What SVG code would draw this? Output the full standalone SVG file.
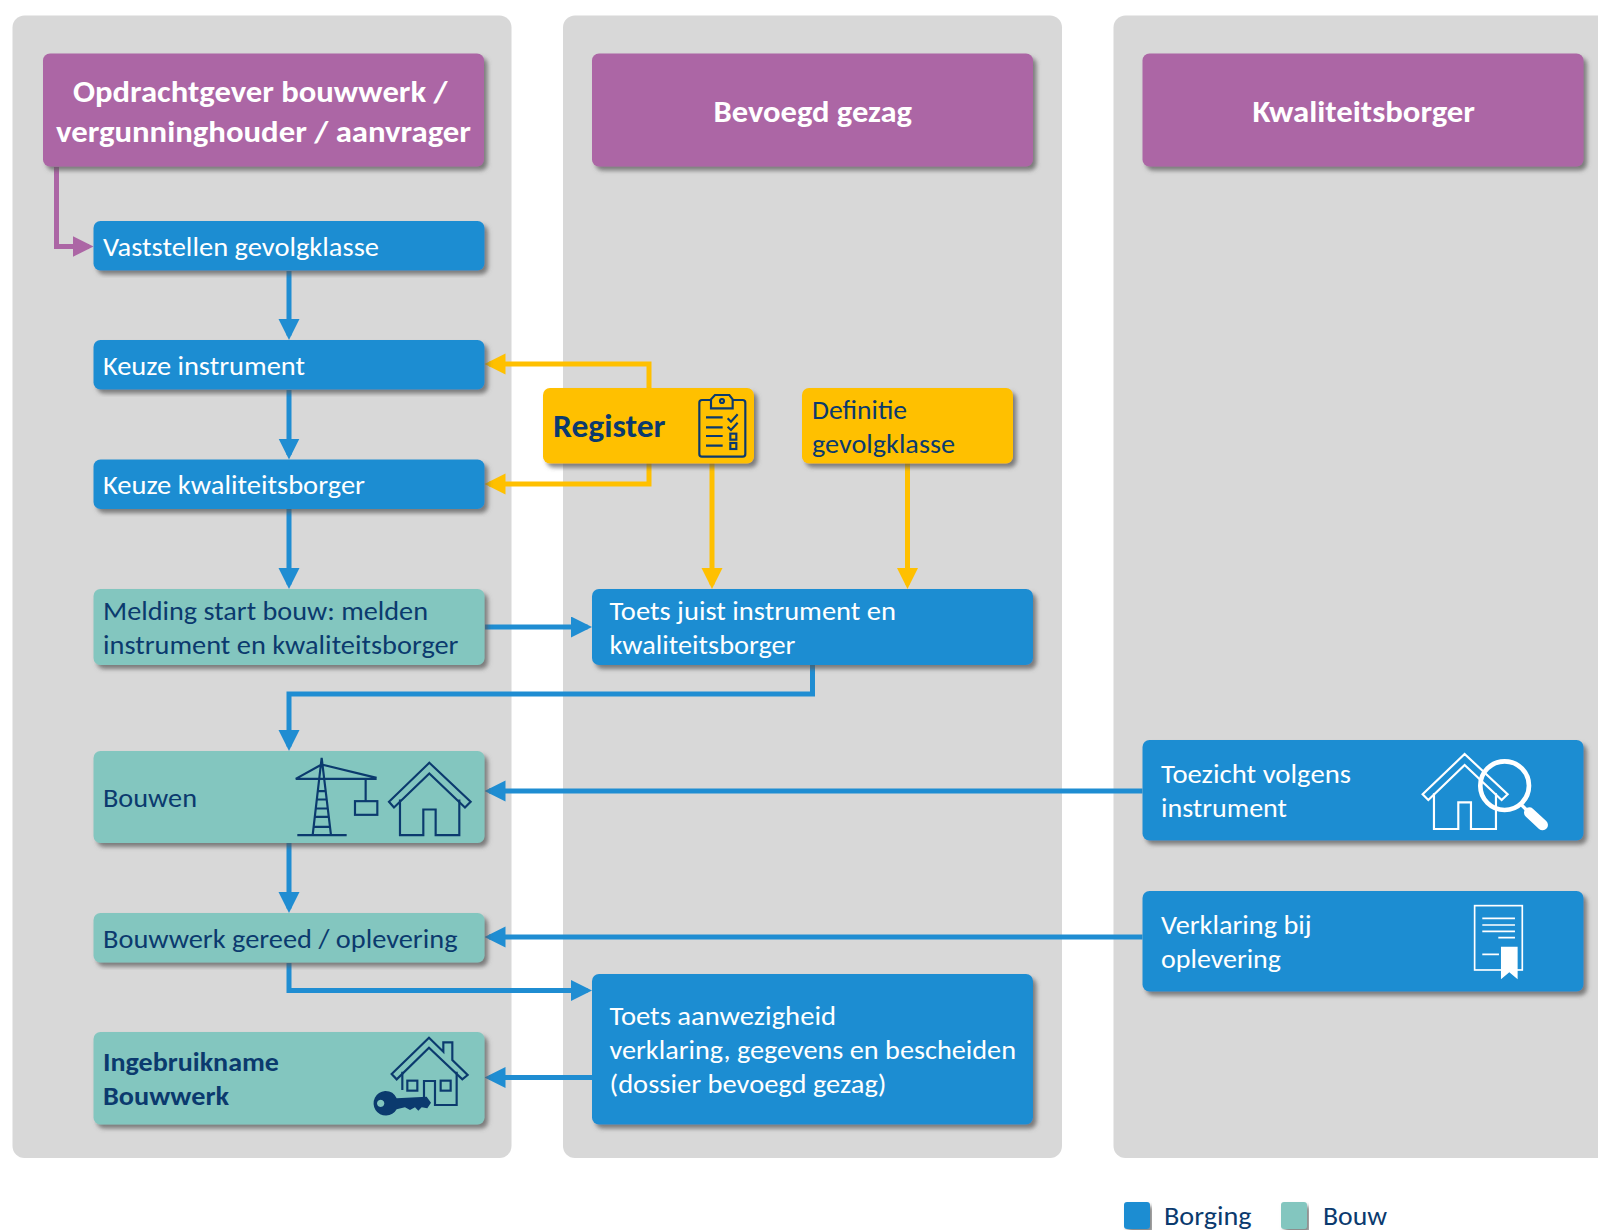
<svg xmlns="http://www.w3.org/2000/svg" width="1598" height="1230" viewBox="0 0 1598 1230">
<style>
text{font-family:Carlito,Lato,"Open Sans",sans-serif;font-size:26.5px;fill:#fff}
.h{font-size:30px;font-weight:700}
.d{fill:#0b3a6e}
.b{font-weight:700}
.lane{fill:#d8d8d8}
.box{filter:url(#sh)}
.blue{fill:#1f8dd2}.teal{fill:#83c6bf}.purple{fill:#ac66a5}.yellow{fill:#ffc000}
.c{fill:none;stroke-width:5;stroke-linejoin:miter}
.cb{stroke:#1f8dd2}.cy{stroke:#ffc000}.cp{stroke:#ac66a5}
.i{fill:none;stroke:#0b3a6e;stroke-width:6.500}
.w{fill:none;stroke:#fff;stroke-width:6.500}
</style>
<defs>
<filter id="sh" x="-5%" y="-10%" width="110%" height="125%"><feDropShadow dx="3.5" dy="4" stdDeviation="2.200" flood-color="#555" flood-opacity=".7"/></filter>
<marker id="mb" markerUnits="userSpaceOnUse" markerWidth="22" markerHeight="22" refX="16.5" refY="10.5" orient="auto"><path d="M0 0L21 10.500L0 21z" fill="#1f8dd2"/></marker>
<marker id="my" markerUnits="userSpaceOnUse" markerWidth="22" markerHeight="22" refX="16.500" refY="10.5" orient="auto"><path d="M0 0L21 10.500L0 21z" fill="#ffc000"/></marker>
<marker id="mp" markerUnits="userSpaceOnUse" markerWidth="22" markerHeight="22" refX="16.500" refY="10.500" orient="auto"><path d="M0 0L21 10.500L0 21z" fill="#ac66a5"/></marker>
</defs>
<rect width="1598" height="1230" fill="#fff"/>
<g id="lanes">
<rect class="lane" x="12.500" y="15.500" width="499" height="1142.500" rx="12"/>
<rect class="lane" x="563" y="15.500" width="499" height="1142.500" rx="12"/>
<path class="lane" d="M1598 15.500H1125.500a12 12 0 0 0-12 12V1146a12 12 0 0 0 12 12H1598z"/>
</g>
<g id="connectors">
<path class="c cp" marker-end="url(#mp)" d="M56.500 167V246.500H89"/>
<path class="c cb" marker-end="url(#mb)" d="M289 271V335.500"/>
<path class="c cb" marker-end="url(#mb)" d="M289 390V455"/>
<path class="c cb" marker-end="url(#mb)" d="M289 509V584.500"/>
<path class="c cb" marker-end="url(#mb)" d="M485 627H587.500"/>
<path class="c cb" marker-end="url(#mb)" d="M812.500 665V694H289V746.500"/>
<path class="c cb" marker-end="url(#mb)" d="M289 843V908.500"/>
<path class="c cb" marker-end="url(#mb)" d="M289 963V990.500H587.500"/>
<path class="c cb" marker-end="url(#mb)" d="M592 1077.500H489"/>
<path class="c cb" marker-end="url(#mb)" d="M1142.500 791H489"/>
<path class="c cb" marker-end="url(#mb)" d="M1142.500 937H489"/>
<path class="c cy" marker-end="url(#my)" d="M649 388V364H489"/>
<path class="c cy" marker-end="url(#my)" d="M649 463V484H489"/>
<path class="c cy" marker-end="url(#my)" d="M712 463V584.500"/>
<path class="c cy" marker-end="url(#my)" d="M907.500 463V584.500"/>
</g>
<g id="head-opdrachtgever">
<rect class="box purple" x="43" y="53.500" width="441" height="113" rx="7"/>
<text class="h" x="73" y="102" textLength="374.500" lengthAdjust="spacingAndGlyphs">Opdrachtgever bouwwerk /</text>
<text class="h" x="56" y="141.500" textLength="415" lengthAdjust="spacingAndGlyphs">vergunninghouder / aanvrager</text>
</g>
<g id="head-bevoegd">
<rect class="box purple" x="592" y="53.500" width="441" height="113" rx="7"/>
<text class="h" x="713.500" y="121.500" textLength="198.500" lengthAdjust="spacingAndGlyphs">Bevoegd gezag</text>
</g>
<g id="head-kwaliteitsborger">
<rect class="box purple" x="1142.500" y="53.500" width="441" height="113" rx="7"/>
<text class="h" x="1252.500" y="121.500" textLength="222.500" lengthAdjust="spacingAndGlyphs">Kwaliteitsborger</text>
</g>
<g id="vaststellen">
<rect class="box blue" x="93.500" y="221" width="391" height="49.500" rx="7"/>
<text x="103" y="256" textLength="276" lengthAdjust="spacingAndGlyphs">Vaststellen gevolgklasse</text>
</g>
<g id="keuze-instrument">
<rect class="box blue" x="93.500" y="340" width="391" height="49.500" rx="7"/>
<text x="103" y="375" textLength="202" lengthAdjust="spacingAndGlyphs">Keuze instrument</text>
</g>
<g id="keuze-kwaliteitsborger">
<rect class="box blue" x="93.500" y="459.500" width="391" height="49.500" rx="7"/>
<text x="103" y="494" textLength="262" lengthAdjust="spacingAndGlyphs">Keuze kwaliteitsborger</text>
</g>
<g id="melding">
<rect class="box teal" x="93.500" y="589" width="391" height="76" rx="7"/>
<text class="d" x="103" y="620" textLength="325" lengthAdjust="spacingAndGlyphs">Melding start bouw: melden</text>
<text class="d" x="103" y="653.500" textLength="355.500" lengthAdjust="spacingAndGlyphs">instrument en kwaliteitsborger</text>
</g>
<g id="register">
<rect class="box yellow" x="543" y="388" width="211" height="75.500" rx="7"/>
<text class="d b" style="font-size:32px" x="553" y="437" textLength="112.500" lengthAdjust="spacingAndGlyphs">Register</text>
<g transform="translate(670 380) scale(.3333)" class="i">
<rect x="88" y="60" width="138" height="170" rx="8"/>
<path d="M123 85V58L135 45H178L188 58V85Z" fill="#ffc000"/>
<circle cx="156" cy="63" r="6"/>
<path d="M108 112H158M108 142H158M108 168H158M108 197H158M173 115L183 125L203 103M173 140L183 150L203 128"/>
<rect x="181" y="161" width="18" height="18"/>
<rect x="181" y="189" width="18" height="18"/>
</g>
</g>
<g id="definitie">
<rect class="box yellow" x="802" y="388" width="211" height="75.500" rx="7"/>
<text class="d" x="812" y="419" textLength="95" lengthAdjust="spacingAndGlyphs">Definitie</text>
<text class="d" x="812" y="452.500" textLength="143" lengthAdjust="spacingAndGlyphs">gevolgklasse</text>
</g>
<g id="toets-juist">
<rect class="box blue" x="592" y="589" width="441" height="76" rx="7"/>
<text x="609.500" y="620" textLength="286.500" lengthAdjust="spacingAndGlyphs">Toets juist instrument en</text>
<text x="609.500" y="653.500" textLength="186" lengthAdjust="spacingAndGlyphs">kwaliteitsborger</text>
</g>
<g id="bouwen">
<rect class="box teal" x="93.500" y="751" width="391" height="92" rx="7"/>
<text class="d" x="103" y="807" textLength="94" lengthAdjust="spacingAndGlyphs">Bouwen</text>
<g transform="translate(270 739.500) scale(.3333)" class="i">
<path d="M155 55L128 287M155 55L183 287M82 287H230M77 118H320M155 75L77 118M155 75L320 115M142 155H170M139 180H173M136 207H176M133 232H178M130 262H181M287 118V185"/>
<rect x="255" y="185" width="67" height="41"/>
<path d="M478 70L602 187L585 204L478 102L372 204L357 187Z"/>
<path d="M390 180V287H460V210H497V287H568V180"/>
</g>
</g>
<g id="toezicht">
<rect class="box blue" x="1142.500" y="740" width="441" height="100.500" rx="7"/>
<text x="1161" y="783" textLength="190" lengthAdjust="spacingAndGlyphs">Toezicht volgens</text>
<text x="1161" y="817" textLength="126" lengthAdjust="spacingAndGlyphs">instrument</text>
<g transform="translate(1130 730) scale(.3333)" class="w">
<path d="M1004 72L1133 193L1115 210L1004 105L895 210L878 193Z"/>
<path d="M912 190V297H985V217H1023V297H1098V190"/>
<circle cx="1124" cy="167" r="73" stroke-width="14"/>
<path d="M1175 225L1190 240" stroke-width="10"/>
<path d="M1198 248L1238 285" stroke-width="32" stroke-linecap="round"/>
</g>
</g>
<g id="bouwwerk-gereed">
<rect class="box teal" x="93.500" y="913" width="391" height="49.500" rx="7"/>
<text class="d" x="103" y="948" textLength="354.500" lengthAdjust="spacingAndGlyphs">Bouwwerk gereed / oplevering</text>
</g>
<g id="verklaring">
<rect class="box blue" x="1142.500" y="891" width="441" height="100.500" rx="7"/>
<text x="1161" y="933.500" textLength="150.500" lengthAdjust="spacingAndGlyphs">Verklaring bij</text>
<text x="1161" y="968" textLength="120" lengthAdjust="spacingAndGlyphs">oplevering</text>
<g transform="translate(1130 730) scale(.3333)" class="w">
<rect x="1034" y="527" width="143" height="193" stroke-width="5"/>
<path d="M1057 565H1155M1057 585H1155M1057 604H1155M1105 623H1155M1057 673H1107" stroke-width="5"/>
<path d="M1113 650H1163V748L1138 727L1113 748Z" fill="#fff" stroke="none"/>
</g>
</g>
<g id="toets-aanwezigheid">
<rect class="box blue" x="592" y="974" width="441" height="150.500" rx="7"/>
<text x="609.500" y="1025" textLength="226.500" lengthAdjust="spacingAndGlyphs">Toets aanwezigheid</text>
<text x="609.500" y="1059" textLength="406.500" lengthAdjust="spacingAndGlyphs">verklaring, gegevens en bescheiden</text>
<text x="609.500" y="1092.500" textLength="277" lengthAdjust="spacingAndGlyphs">(dossier bevoegd gezag)</text>
</g>
<g id="ingebruikname">
<rect class="box teal" x="93.500" y="1032" width="391" height="92.500" rx="7"/>
<text class="d b" x="103" y="1071" textLength="176" lengthAdjust="spacingAndGlyphs">Ingebruikname</text>
<text class="d b" x="103" y="1105" textLength="126" lengthAdjust="spacingAndGlyphs">Bouwwerk</text>
<g transform="translate(350 1020) scale(.3333)" class="i">
<path d="M237 53L280 95V67H307V120L353 165L337 178L237 83L140 178L125 162Z"/>
<path d="M157 155V210M320 155V255H255V183H222V235"/>
<rect x="172" y="182" width="30" height="30"/>
<rect x="272" y="182" width="30" height="30"/>
<path d="M105 213a37 37 0 0 1 35 22L230 230L243 248L232 265L215 262L205 272L195 262L180 270L165 262L140 268a37 37 0 1 1-35-55ZM92 239a11 11 0 1 0 .01 0Z" fill="#0b3a6e" fill-rule="evenodd" stroke="none"/>
</g>
</g>
<g id="legend">
<rect class="box blue" x="1124" y="1202" width="26" height="27" rx="3"/>
<text class="d" x="1164" y="1225" textLength="87.500" lengthAdjust="spacingAndGlyphs">Borging</text>
<rect class="box teal" x="1281" y="1202" width="26" height="27" rx="3"/>
<text class="d" x="1323" y="1225" textLength="64" lengthAdjust="spacingAndGlyphs">Bouw</text>
</g>
</svg>
